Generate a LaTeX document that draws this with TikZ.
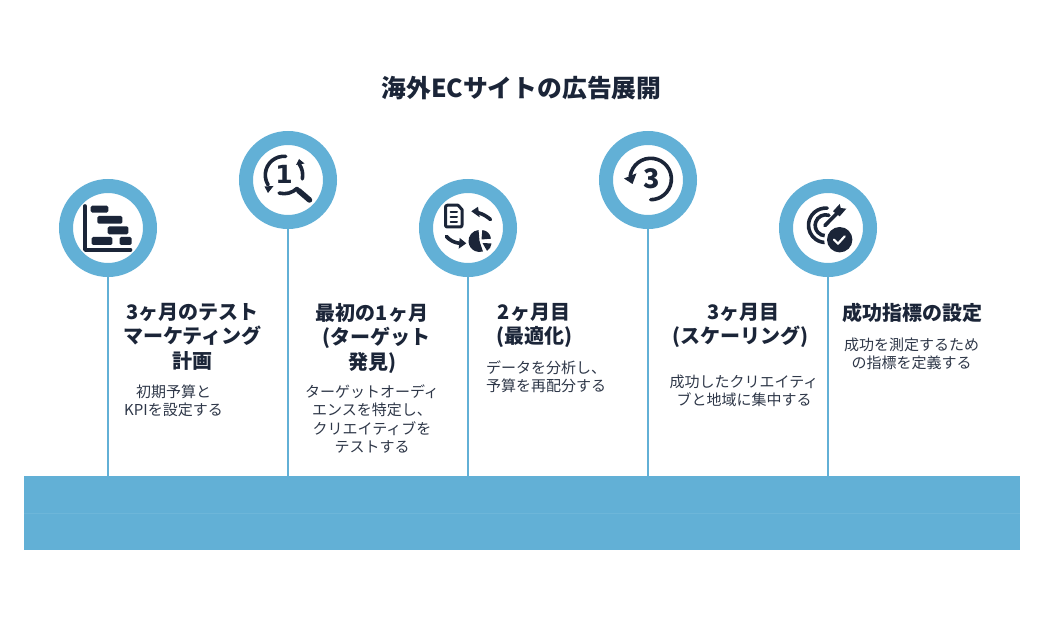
\documentclass[tikz,border=0pt]{standalone}
\usepackage{fontspec}
\newfontfamily\jpfont{Noto Sans CJK JP}
\newfontfamily\iconfont{DejaVu Sans}
\definecolor{ringblue}{HTML}{62B0D6}
\definecolor{inkdark}{HTML}{1B2538}
\definecolor{bodygrey}{HTML}{2E3748}
\tikzset{
	ring/.style={circle, draw=ringblue, fill=white, line width=14pt, inner sep=0pt, minimum size=84pt},
	stem/.style={draw=ringblue, line width=2.6pt},
	bandpart/.style={rectangle, fill=ringblue, inner sep=0pt, outer sep=0pt, minimum width=996pt, minimum height=37pt},
	headtext/.style={align=center, text=inkdark, font=\jpfont\bfseries\fontsize{20}{24.5}\selectfont},
	bodytext/.style={align=center, text=bodygrey, font=\jpfont\fontsize{15}{18.5}\selectfont},
	iconline/.style={draw=inkdark, line width=3.6pt, line cap=round, line join=round},
	iconfill/.style={fill=inkdark, draw=none},
}
\begin{document}
\begin{tikzpicture}[x=1pt, y=-1pt]
	\useasboundingbox (0,0) rectangle (1044,636);

	%band
	\node[bandpart] (bandtop) at (522,494.5) {};
	\node[bandpart] (bandbottom) at (522,531.5) {};
	\draw[draw=ringblue!93!white, line width=0.4pt] (bandtop.south west) -- (bandtop.south east);

	%title
	\node[align=center, text=inkdark, font=\jpfont\bfseries\fontsize{24.8}{28}\selectfont] (title) at (521.5,88.5) {海外ECサイトの広告展開};

	%rings
	\node[ring] (ringa) at (108,228) {};
	\node[ring] (ringb) at (288,180) {};
	\node[ring] (ringc) at (468,228) {};
	\node[ring] (ringd) at (648,180) {};
	\node[ring] (ringe) at (828,228) {};

	%stems
	\draw[stem] (ringa.south) -- (ringa.south |- bandtop.north);
	\draw[stem] (ringb.south) -- (ringb.south |- bandtop.north);
	\draw[stem] (ringc.south) -- (ringc.south |- bandtop.north);
	\draw[stem] (ringd.south) -- (ringd.south |- bandtop.north);
	\draw[stem] (ringe.south) -- (ringe.south |- bandtop.north);

	%texts of the first step
	\node[headtext, anchor=north] (heada) at (192.5,299.5) {3ヶ月のテスト\\マーケティング\\計画};
	\node[bodytext, anchor=north] (bodya) at (173.5,381) {初期予算と\\KPIを設定する};

	%texts of the second step
	\node[headtext, anchor=north] (headb) at (372,299.5) {最初の1ヶ月\\\hspace{9pt}(ターゲット\\発見)\hspace{11pt}};
	\node[bodytext, anchor=north] (bodyb) at (372,381) {ターゲットオーディ\\エンスを特定し、\\クリエイティブを\\テストする};

	%texts of the third step
	\node[headtext, anchor=north] (headc) at (534,299.5) {2ヶ月目\\(最適化)};
	\node[bodytext, anchor=north] (bodyc) at (546,357) {データを分析し、\\予算を再配分する};

	%texts of the fourth step
	\node[headtext, anchor=north] (headd) at (740.5,299.5) {\hspace{6pt}3ヶ月目\\(スケーリング)};
	\node[bodytext, anchor=north] (bodyd) at (744,371) {成功したクリエイティ\\ブと地域に集中する};

	%texts of the fifth step
	\node[headtext, anchor=north] (heade) at (912,299.5) {成功指標の設定};
	\node[bodytext, anchor=north] (bodye) at (911.5,334) {成功を測定するため\\の指標を定義する};

	%gantt icon
	\draw[iconline] (85,206) -- (85,250) -- (130.5,250);
	\fill[iconfill, rounded corners=1.5pt] (90.7,205.7) rectangle (108.3,212.7);
	\fill[iconfill, rounded corners=1.5pt] (97.3,216) rectangle (122.3,223.7);
	\fill[iconfill, rounded corners=1.5pt] (107.7,226.3) rectangle (128.3,234.3);
	\fill[iconfill, rounded corners=1.5pt] (91.7,237) rectangle (112.3,245);
	\fill[iconfill, rounded corners=1.5pt] (119.7,237) rectangle (131.7,245);

	%search icon
	\draw[iconline] (284,175) ++(85:18.7pt) arc[start angle=85, end angle=212, radius=18.7pt];
	\draw[iconline] (284,175) ++(255:18.7pt) arc[start angle=255, end angle=315, radius=18.7pt];
	\draw[iconline] (284,175) ++(-12:18.7pt) arc[start angle=-12, end angle=35, radius=18.7pt];
	\fill[iconfill] (264.5,186.5) -- (273.5,186) -- (268,193) -- cycle;
	\fill[iconfill] (296,165) -- (304.5,163.5) -- (299,159) -- cycle;
	\draw[iconline, line width=5.5pt] (298.7,190.7) -- (309.5,200);
	\node[text=inkdark, font=\iconfont\bfseries\fontsize{25}{25}\selectfont] (numa) at (284,174) {1};

	%report icon
	\draw[iconline, line width=3pt] (458,205.2) -- (447.5,205.2) .. controls (446,205.2) and (445.5,206) .. (445.5,207.5) -- (445.5,225) .. controls (445.5,226.5) and (446,227) .. (447.5,227) -- (460,227) .. controls (461.5,227) and (462,226.5) .. (462,225) -- (462,209.5) -- cycle;
	\draw[iconline, line width=2pt] (450.5,212) -- (457,212);
	\draw[iconline, line width=2pt] (450.5,217.3) -- (457,217.3);
	\draw[iconline, line width=2pt] (450.5,222.3) -- (457,222.3);
	\draw[iconline] (490.5,219.5) .. controls (487,216.5) and (483,214) .. (477.5,212.5);
	\fill[iconfill] (471.3,211.3) -- (478,206.8) -- (479.7,217.3) -- cycle;
	\draw[iconline] (446.5,236.5) .. controls (449.5,240) and (453.5,242.5) .. (459.5,243.3);
	\fill[iconfill] (466.3,243.3) -- (459.7,238) -- (458.7,248.7) -- cycle;
	\fill[iconfill] (479.5,241) ++(95:11pt) arc[start angle=95, end angle=288, radius=11pt] -- (479.5,241) -- cycle;
	\fill[iconfill] (481.5,239.5) ++(85:9.5pt) arc[start angle=85, end angle=5, radius=9.5pt] -- (481.5,239.5) -- cycle;
	\fill[iconfill] (482.5,243) ++(-3:9pt) arc[start angle=-3, end angle=-60, radius=9pt] -- (482.5,243) -- cycle;

	%third month icon
	\draw[iconline] (650.7,179) ++(172:20.7pt) arc[start angle=172, end angle=-90, radius=20.7pt];
	\fill[iconfill] (624,178.5) -- (636.5,173.3) -- (632.5,184) -- cycle;
	\node[text=inkdark, font=\jpfont\bfseries\fontsize{27}{27}\selectfont] (numb) at (652,178.5) {3};

	%target icon
	\draw[iconline] (825.7,225.3) ++(85:17.2pt) arc[start angle=85, end angle=275, radius=17.2pt];
	\draw[iconline] (825.7,225.3) ++(72:10.5pt) arc[start angle=72, end angle=270, radius=10.5pt];
	\draw[iconline] (825,225.5) -- (837.3,213);
	\fill[iconfill] (833,211.3) -- (839.7,204) -- (840.7,208) -- (846.3,208.7) -- (839.7,216.3) -- cycle;
	\fill[white] (839.7,239.7) circle[radius=15.5];
	\fill[iconfill] (839.7,239.7) circle[radius=12.7];
	\draw[draw=white, line width=2.2pt, line cap=round, line join=round] (834,239.7) -- (838,243.7) -- (844.7,236.3);

\end{tikzpicture}
\end{document}
